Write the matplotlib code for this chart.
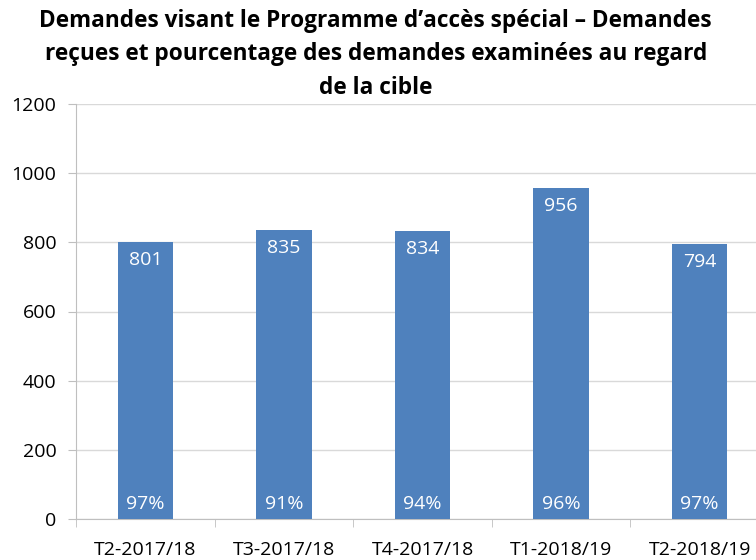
import matplotlib.pyplot as plt

# data
categories = ["T2-2017/18", "T3-2017/18", "T4-2017/18", "T1-2018/19", "T2-2018/19"]
received = [801, 835, 834, 956, 794]
pct_labels = ["97%", "91%", "94%", "96%", "97%"]

title = ("Demandes visant le Programme d\u2019acc\u00e8s sp\u00e9cial \u2013 Demandes\n"
         "re\u00e7ues et pourcentage des demandes examin\u00e9es au regard\n"
         "de la cible")

plt.rcParams['font.family'] = ['Open Sans', 'DejaVu Sans']

W, H = 756, 560
fig = plt.figure(figsize=(W / 100, H / 100), dpi=100)
# axes run past the right edge, as in the cropped original
ax = fig.add_axes([76 / W, 1 - 519 / H, (769 - 76) / W, (519 - 104) / H])

x = list(range(len(categories)))
bars = ax.bar(x, received, width=0.4, color='#4F81BD', zorder=3)

for xi, v, p in zip(x, received, pct_labels):
    ax.text(xi, v - 26, str(v), ha='center', va='top', color='white', fontsize=14, zorder=4)
    ax.text(xi, 44, p, ha='center', va='center', color='white', fontsize=14, zorder=4)

ax.set_xlim(-0.5, 4.5)
ax.set_ylim(0, 1200)
ax.set_yticks(range(0, 1201, 200))
ax.yaxis.grid(True, color='#D9D9D9', linewidth=1, zorder=0)
ax.set_axisbelow(True)

ax.set_xticks(x)
ax.set_xticklabels(categories, fontsize=14)
ax.set_xticks([i - 0.5 for i in range(len(categories) + 1)], minor=True)
ax.tick_params(axis='x', which='major', length=0, pad=16)
ax.tick_params(axis='x', which='minor', length=6, color='#BFBFBF')
ax.tick_params(axis='y', labelsize=14, length=6, color='#BFBFBF', pad=8)

for s in ['top', 'right']:
    ax.spines[s].set_visible(False)
ax.spines['left'].set_color('#BFBFBF')
ax.spines['bottom'].set_color('#BFBFBF')

fig.text(0.497, 1 - 9 / H, title, ha='center', va='top', fontsize=16.3,
         fontweight='bold', linespacing=1.52)

fig.savefig('out.png', dpi=100)
